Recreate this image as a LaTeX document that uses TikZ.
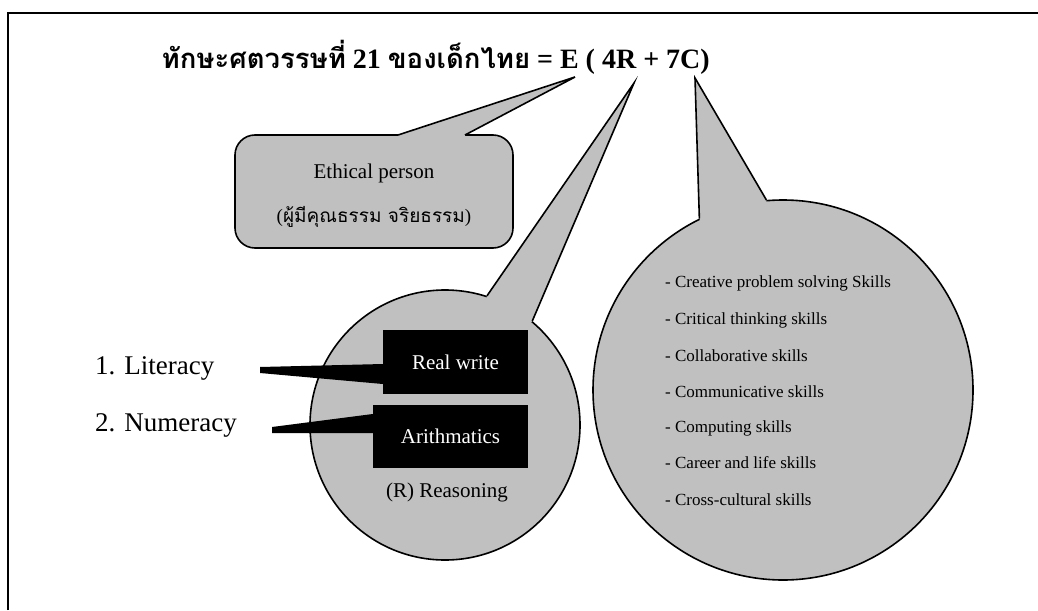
\documentclass[tikz,border=0pt]{standalone}
\usepackage{fontspec}
\setmainfont{Liberation Serif}
\newfontfamily\thaifont[Script=Thai]{Loma}
\definecolor{calgray}{RGB}{192,192,192}

\begin{document}
\begin{tikzpicture}[x=1pt,y=-1pt,
  callout/.style={draw=black,fill=calgray,line width=1.6pt},
  tailfill/.style={fill=calgray},
  tailline/.style={draw=black,line width=1.6pt,line join=miter},
  blackbox/.style={fill=black,text=white,inner sep=0pt,font=\fontsize{21}{25}\selectfont},
  skill/.style={anchor=west,inner sep=0pt,font=\fontsize{17}{20}\selectfont}]
\useasboundingbox (0,0) rectangle (1038,610);
\tikzstyle{every node}+=[inner sep=0pt]
% frame
\draw [line width=2.5pt] (8,610) -- (8,13) -- (1038,13);
% title
\node [anchor=base east,font=\bfseries\fontsize{28}{32}\selectfont] (title) at (710,69)
  {{\thaifont\fontsize{27.5}{32}\selectfont ทักษะศตวรรษที่} 21 {\thaifont\fontsize{27.5}{32}\selectfont ของเด็กไทย} = E ( 4R + 7C)};
\coordinate (etip) at (575,77);
\coordinate (rtip) at (634,83);
\coordinate (ctip) at (695,78);
% E : ethical person
\node [callout,rounded corners=20pt,minimum width=278,minimum height=113] (ethic) at (374,191.5) {};
\coordinate (e1) at (398,135);
\coordinate (e2) at (465,135);
\fill [tailfill] (e1) -- (etip) -- (e2) -- ([yshift=-4pt]e2) -- ([yshift=-4pt]e1) -- cycle;
\draw [tailline] (e1) -- (etip) -- (e2);
\node [font=\fontsize{21}{25}\selectfont] (ethen) at (374,173) {Ethical person};
\node [font=\fontsize{19}{23}\selectfont] (ethth) at (374,217) {({\thaifont ผู้มีคุณธรรม จริยธรรม})};
% 4R
\node [callout,circle,minimum size=270] (rcirc) at (445,425) {};
\fill [tailfill] (rcirc.72) -- (rtip) -- (rcirc.50) -- (rcirc.center) -- cycle;
\draw [tailline] (rcirc.72) -- (rtip) -- (rcirc.50);
% 7C
\node [callout,circle,minimum size=380] (ccirc) at (783,390) {};
\fill [tailfill] (ccirc.116.6) -- (ctip) -- (ccirc.95) -- (ccirc.center) -- cycle;
\draw [tailline] (ccirc.116.6) -- (ctip) -- (ccirc.95);
% read write / arithmetic
\node [blackbox,minimum width=145,minimum height=64] (rwrite) at (455.5,362) {Real write};
\node [blackbox,minimum width=155,minimum height=63] (arith) at (450.5,436.5) {Arithmatics};
\node [anchor=west,font=\fontsize{27}{32}\selectfont] (lit) at (95,368) {1. Literacy};
\node [anchor=west,font=\fontsize{27}{32}\selectfont] (num) at (95,425) {2. Numeracy};
\fill [black] ([yshift=-2pt]rwrite.west) -- (260,367) -- (260,373) -- ([yshift=-22pt]rwrite.west) -- cycle;
\fill [black] ([yshift=22.5pt]arith.west) -- (272,427) -- (272,433) -- ([yshift=3.5pt]arith.west) -- cycle;
\node [font=\fontsize{21}{25}\selectfont] (reason) at (447,492) {(R) Reasoning};
% skills
\node [skill] (sk1) at (665,283) {- Creative problem solving Skills};
\node [skill] (sk2) at (665,320) {- Critical thinking skills};
\node [skill] (sk3) at (665,356) {- Collaborative skills};
\node [skill] (sk4) at (665,392) {- Communicative skills};
\node [skill] (sk5) at (665,428) {- Computing skills};
\node [skill] (sk6) at (665,463) {- Career and life skills};
\node [skill] (sk7) at (665,500) {- Cross-cultural skills};
\end{tikzpicture}
\end{document}
